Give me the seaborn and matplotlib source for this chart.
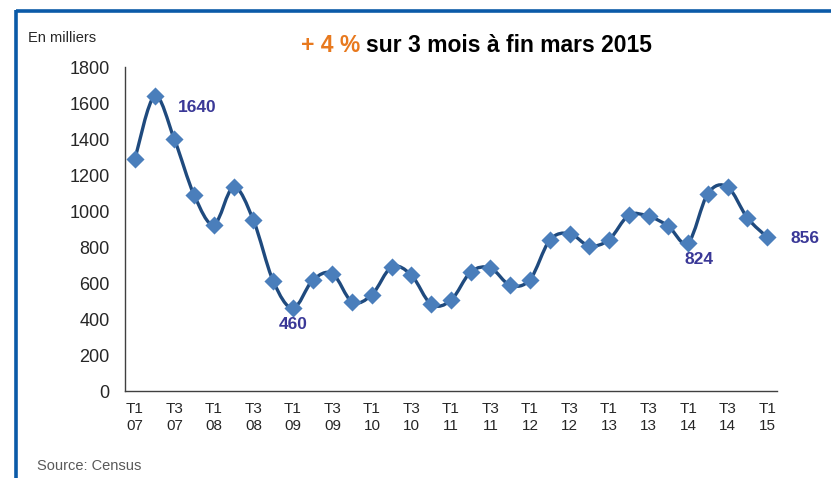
import matplotlib
matplotlib.use("Agg")
import matplotlib.pyplot as plt
import numpy as np
import pandas as pd
import seaborn as sns
from matplotlib.path import Path
from matplotlib.patches import PathPatch
from matplotlib.lines import Line2D

# données trimestrielles, en milliers (T1 2007 -> T1 2015)
quarters = [f"T{q}\n{y:02d}" for y in range(7, 15) for q in (1, 2, 3, 4)] + ["T1\n15"]
values = [1290, 1640, 1400, 1090, 925, 1135, 950, 612, 460,
          616, 653, 495, 536, 690, 644, 482, 505, 662, 684, 588, 620,
          839, 876, 807, 842, 978, 972, 917, 824, 1098, 1135, 963, 856]
labelled = {1: "1640", 8: "460", 28: "824", 32: "856"}

df = pd.DataFrame({"x": np.arange(len(values)), "value": values})

sns.set_style("white")
plt.rcParams["font.family"] = ["Liberation Sans", "DejaVu Sans"]

fig = plt.figure(figsize=(8.31, 4.78), dpi=100)
ax = fig.add_axes([0.1504, 0.182, 0.7846, 0.677])

# courbe lissée (style "ligne lissée" Excel : bezier type catmull-rom)
x = df["x"].to_numpy(dtype=float)
y = df["value"].to_numpy(dtype=float)
verts = [(x[0], y[0])]
codes = [Path.MOVETO]
n = len(x)
for i in range(n - 1):
    p0 = np.array([x[max(i - 1, 0)], y[max(i - 1, 0)]])
    p1 = np.array([x[i], y[i]])
    p2 = np.array([x[i + 1], y[i + 1]])
    p3 = np.array([x[min(i + 2, n - 1)], y[min(i + 2, n - 1)]])
    c1 = p1 + (p2 - p0) / 6
    c2 = p2 - (p3 - p1) / 6
    verts += [tuple(c1), tuple(c2), tuple(p2)]
    codes += [Path.CURVE4] * 3
ax.add_patch(PathPatch(Path(verts, codes), facecolor="none",
                       edgecolor="#1F4A7E", lw=2.4, zorder=2))

sns.scatterplot(data=df, x="x", y="value", marker="D", s=85,
                color="#4A7EBB", linewidth=0, zorder=3, ax=ax)

label_offsets = {1: (31, -8), 8: (0, -11.5), 28: (8, -12), 32: (27, -1)}
for i, txt in labelled.items():
    ax.annotate(txt, (i, values[i]), xytext=label_offsets[i],
                textcoords="offset points", ha="center", va="center",
                fontsize=12.5, fontweight="bold", color="#3A3897")

ax.set_xlim(-0.5, len(values) - 0.5)
ax.set_ylim(0, 1800)
ax.set_yticks(range(0, 1801, 200))
ax.set_xticks(range(0, len(values), 2))
ax.set_xticklabels(quarters[::2], fontsize=11, linespacing=1.3)
ax.set_xticks(np.arange(-0.5, len(values), 1), minor=True)
ax.tick_params(axis="x", which="major", length=0, pad=8)
ax.tick_params(axis="x", which="minor", length=3.5, color="#7F7F7F", width=0.8)
ax.tick_params(axis="y", length=4.5, color="#7F7F7F", width=0.8,
               labelsize=13, pad=6.5)
ax.set_xlabel("")
ax.set_ylabel("")
for side in ("top", "right"):
    ax.spines[side].set_visible(False)
ax.spines["left"].set_color("#404040")
ax.spines["bottom"].set_color("#404040")
ax.spines["left"].set_linewidth(1)
ax.spines["bottom"].set_linewidth(1)

# titre deux couleurs
fig.text(301 / 831, 1 - 52 / 478, "+ 4 %", color="#E8791E", fontsize=16.5,
         fontweight="bold", va="baseline", ha="left")
fig.text(366 / 831, 1 - 52 / 478, "sur 3 mois à fin mars 2015", color="black",
         fontsize=16.5, fontweight="bold", va="baseline", ha="left")
fig.text(28 / 831, 1 - 38 / 478, "En milliers", fontsize=10.5,
         va="center", ha="left")
fig.text(37 / 831, 1 - 466 / 478, "Source: Census", fontsize=10.5,
         color="#595959", va="center", ha="left")

# cadre bleu
fig.add_artist(Line2D([15.5 / 831, 1], [1 - 11.3 / 478] * 2, color="#0B5AA8",
                      lw=2.6, transform=fig.transFigure, solid_capstyle="butt"))
fig.add_artist(Line2D([15.5 / 831] * 2, [0, 1 - 10 / 478], color="#0B5AA8",
                      lw=2.6, transform=fig.transFigure, solid_capstyle="butt"))

fig.savefig("out.png", dpi=100)
